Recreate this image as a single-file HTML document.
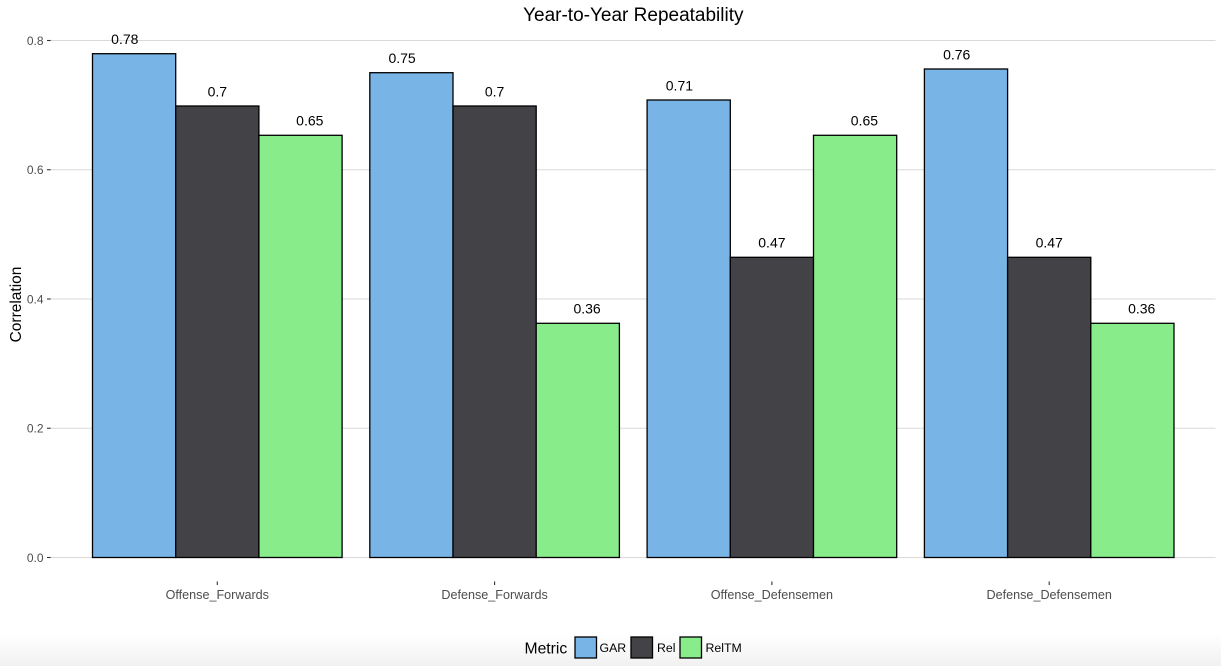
<!DOCTYPE html>
<html>
<head>
<meta charset="utf-8">
<style>
  html, body { margin:0; padding:0; background:#fff; }
  body { width:1221px; height:666px; overflow:hidden; position:relative; }
  svg { position:absolute; left:0; top:0; }
  text { font-family: "Liberation Sans", Arial, sans-serif; }
</style>
</head>
<body>
<svg width="1221" height="666" viewBox="0 0 1221 666" xmlns="http://www.w3.org/2000/svg">
  <defs>
    <linearGradient id="bot" x1="0" y1="0" x2="0" y2="1">
      <stop offset="0" stop-color="#ffffff"/>
      <stop offset="1" stop-color="#f1f1f1"/>
    </linearGradient>
  </defs>
  <rect x="0" y="0" width="1221" height="666" fill="#fff"/>
  <rect x="0" y="634" width="1221" height="32" fill="url(#bot)"/>

  <!-- title -->
  <text x="633.3" y="21" font-size="19" text-anchor="middle" fill="#000">Year-to-Year Repeatability</text>

  <!-- gridlines -->
  <g stroke="#d9d9d9" stroke-width="1.1">
    <line x1="50.7" x2="1215.5" y1="557.5" y2="557.5"/>
    <line x1="50.7" x2="1215.5" y1="428.25" y2="428.25"/>
    <line x1="50.7" x2="1215.5" y1="299" y2="299"/>
    <line x1="50.7" x2="1215.5" y1="169.75" y2="169.75"/>
    <line x1="50.7" x2="1215.5" y1="40.5" y2="40.5"/>
  </g>
  <!-- y ticks -->
  <g stroke="#333" stroke-width="1.1">
    <line x1="47" x2="50.7" y1="557.5" y2="557.5"/>
    <line x1="47" x2="50.7" y1="428.25" y2="428.25"/>
    <line x1="47" x2="50.7" y1="299" y2="299"/>
    <line x1="47" x2="50.7" y1="169.75" y2="169.75"/>
    <line x1="47" x2="50.7" y1="40.5" y2="40.5"/>
  </g>
  <g font-size="12" fill="#4d4d4d" text-anchor="end">
    <text x="43.5" y="561.8">0.0</text>
    <text x="43.5" y="432.5">0.2</text>
    <text x="43.5" y="303.3">0.4</text>
    <text x="43.5" y="174">0.6</text>
    <text x="43.5" y="44.8">0.8</text>
  </g>

  <!-- y axis title -->
  <text transform="translate(21,304.5) rotate(-90)" font-size="15.5" text-anchor="middle" fill="#000">Correlation</text>

  <!-- bars -->
  <g stroke="#000" stroke-width="1.3">
    <!-- group 1 -->
    <rect x="92.5" y="53.7" width="83.2" height="503.8" fill="#78b5e6"/>
    <rect x="175.7" y="106" width="83.2" height="451.5" fill="#434247"/>
    <rect x="258.9" y="135.3" width="83.2" height="422.2" fill="#87ec89"/>
    <!-- group 2 -->
    <rect x="369.8" y="72.7" width="83.2" height="484.8" fill="#78b5e6"/>
    <rect x="453" y="106" width="83.2" height="451.5" fill="#434247"/>
    <rect x="536.2" y="323.3" width="83.2" height="234.2" fill="#87ec89"/>
    <!-- group 3 -->
    <rect x="647.1" y="100" width="83.2" height="457.5" fill="#78b5e6"/>
    <rect x="730.3" y="257.3" width="83.2" height="300.2" fill="#434247"/>
    <rect x="813.5" y="135.3" width="83.2" height="422.2" fill="#87ec89"/>
    <!-- group 4 -->
    <rect x="924.4" y="69" width="83.2" height="488.5" fill="#78b5e6"/>
    <rect x="1007.6" y="257.3" width="83.2" height="300.2" fill="#434247"/>
    <rect x="1090.8" y="323.3" width="83.2" height="234.2" fill="#87ec89"/>
  </g>

  <!-- value labels -->
  <g font-size="14" fill="#000" text-anchor="middle">
    <text x="124.8" y="44">0.78</text>
    <text x="217.3" y="96.3">0.7</text>
    <text x="309.8" y="125.6">0.65</text>

    <text x="402.1" y="63">0.75</text>
    <text x="494.6" y="96.3">0.7</text>
    <text x="587.1" y="313.6">0.36</text>

    <text x="679.4" y="90.3">0.71</text>
    <text x="771.9" y="247.6">0.47</text>
    <text x="864.4" y="125.6">0.65</text>

    <text x="956.7" y="59.3">0.76</text>
    <text x="1049.2" y="247.6">0.47</text>
    <text x="1141.7" y="313.6">0.36</text>
  </g>

  <!-- x ticks -->
  <g stroke="#333" stroke-width="1.1">
    <line x1="217.3" x2="217.3" y1="581.5" y2="585"/>
    <line x1="494.6" x2="494.6" y1="581.5" y2="585"/>
    <line x1="771.9" x2="771.9" y1="581.5" y2="585"/>
    <line x1="1049.2" x2="1049.2" y1="581.5" y2="585"/>
  </g>
  <g font-size="12.6" fill="#4d4d4d" text-anchor="middle">
    <text x="217.3" y="599">Offense_Forwards</text>
    <text x="494.6" y="599">Defense_Forwards</text>
    <text x="771.9" y="599">Offense_Defensemen</text>
    <text x="1049.2" y="599">Defense_Defensemen</text>
  </g>

  <!-- legend -->
  <text x="524.5" y="653.5" font-size="15.7" fill="#000">Metric</text>
  <g stroke="#000" stroke-width="1.3">
    <rect x="575" y="637" width="21.5" height="21" fill="#78b5e6"/>
    <rect x="631" y="637" width="21.5" height="21" fill="#434247"/>
    <rect x="680" y="637" width="21.5" height="21" fill="#87ec89"/>
  </g>
  <g font-size="12.3" fill="#000">
    <text x="599.5" y="652">GAR</text>
    <text x="657" y="652">Rel</text>
    <text x="705.5" y="652">RelTM</text>
  </g>
</svg>
</body>
</html>
